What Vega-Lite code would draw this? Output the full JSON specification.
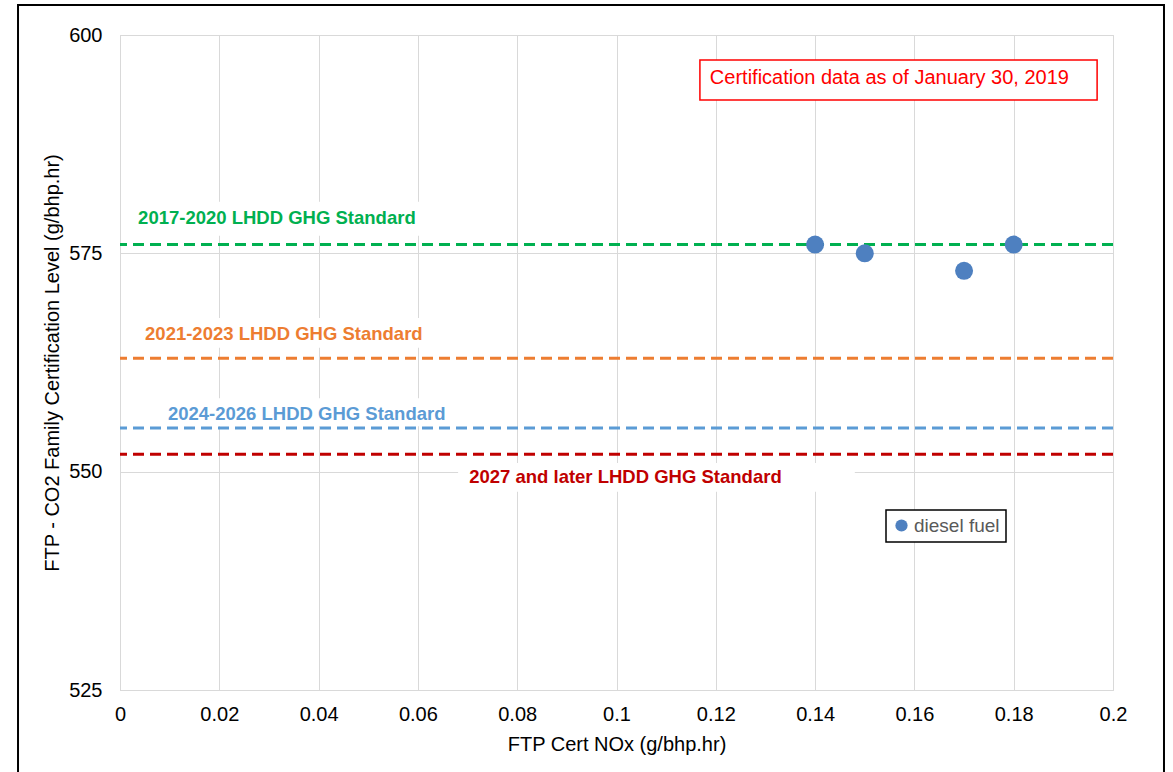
{
  "$schema": "https://vega.github.io/schema/vega-lite/v6.json",
  "autosize": {"type": "none"},
  "width": 993,
  "height": 655,
  "padding": {"left": 120, "top": 35, "right": 60, "bottom": 82},
  "background": "white",
  "datasets": {
    "points": [
      {"nox": 0.14, "co2": 576, "fuel": "diesel fuel"},
      {"nox": 0.15, "co2": 575, "fuel": "diesel fuel"},
      {"nox": 0.17, "co2": 573, "fuel": "diesel fuel"},
      {"nox": 0.18, "co2": 576, "fuel": "diesel fuel"}
    ],
    "standards": [
      {"standard": "2017-2020 LHDD GHG Standard", "level": 576},
      {"standard": "2021-2023 LHDD GHG Standard", "level": 563},
      {"standard": "2024-2026 LHDD GHG Standard", "level": 555},
      {"standard": "2027 and later LHDD GHG Standard", "level": 552}
    ]
  },
  "config": {
    "view": {"stroke": "#D9D9D9"},
    "font": "Liberation Sans",
    "axis": {
      "grid": true, "gridColor": "#D9D9D9", "gridWidth": 1,
      "domainColor": "#D9D9D9", "ticks": false,
      "labelFont": "Liberation Sans", "titleFont": "Liberation Sans",
      "labelFontSize": 20, "titleFontSize": 20,
      "labelColor": "#000000", "titleColor": "#000000",
      "titleFontWeight": "normal", "labelFlush": false, "labelOverlap": false
    },
    "legend": {"strokeWidth": 1.5}
  },
  "layer": [
    {
      "data": {"name": "standards"},
      "transform": [{"filter": "datum.level == 576"}],
      "mark": {"type": "rect", "fill": "white"},
      "encoding": {
        "x": {"datum": 0.0016, "type": "quantitative", "scale": {"domain": [0, 0.2], "nice": false, "zero": false}, "title": "FTP Cert NOx (g/bhp.hr)",
          "axis": {"values": [0, 0.02, 0.04, 0.06, 0.08, 0.1, 0.12, 0.14, 0.16, 0.18, 0.2], "format": ".2~f", "labelPadding": 14, "titlePadding": 10}},
        "x2": {"datum": 0.0616},
        "y": {"datum": 580.9, "type": "quantitative", "scale": {"domain": [525, 600], "nice": false, "zero": false}, "title": "FTP - CO2 Family Certification Level (g/bhp.hr)",
          "axis": {"values": [525, 550, 575, 600], "labelPadding": 18, "titlePadding": 6}},
        "y2": {"datum": 577.0}
      }
    },
    {
      "data": {"name": "standards"},
      "transform": [{"filter": "datum.level == 563"}],
      "mark": {"type": "rect", "fill": "white"},
      "encoding": {
        "x": {"datum": 0.003, "type": "quantitative", "scale": {"domain": [0, 0.2], "nice": false, "zero": false}},
        "x2": {"datum": 0.063},
        "y": {"datum": 567.6, "type": "quantitative", "scale": {"domain": [525, 600], "nice": false, "zero": false}},
        "y2": {"datum": 564.2}
      }
    },
    {
      "data": {"name": "standards"},
      "transform": [{"filter": "datum.level == 555"}],
      "mark": {"type": "rect", "fill": "white"},
      "encoding": {
        "x": {"datum": 0.0077, "type": "quantitative", "scale": {"domain": [0, 0.2], "nice": false, "zero": false}},
        "x2": {"datum": 0.0675},
        "y": {"datum": 558.4, "type": "quantitative", "scale": {"domain": [525, 600], "nice": false, "zero": false}},
        "y2": {"datum": 555.2}
      }
    },
    {
      "data": {"name": "standards"},
      "transform": [{"filter": "datum.level == 552"}],
      "mark": {"type": "rect", "fill": "white"},
      "encoding": {
        "x": {"datum": 0.0681, "type": "quantitative", "scale": {"domain": [0, 0.2], "nice": false, "zero": false}},
        "x2": {"datum": 0.148},
        "y": {"datum": 551.0, "type": "quantitative", "scale": {"domain": [525, 600], "nice": false, "zero": false}},
        "y2": {"datum": 547.7}
      }
    },
    {
      "data": {"name": "standards"},
      "transform": [{"filter": "datum.level == 576"}],
      "mark": {"type": "rule", "color": "#00B050", "strokeWidth": 3, "strokeDash": [11, 6]},
      "encoding": {"y": {"field": "level", "type": "quantitative", "scale": {"domain": [525, 600], "nice": false, "zero": false}}}
    },
    {
      "data": {"name": "standards"},
      "transform": [{"filter": "datum.level == 563"}],
      "mark": {"type": "rule", "color": "#ED7D31", "strokeWidth": 3, "strokeDash": [11, 6]},
      "encoding": {"y": {"field": "level", "type": "quantitative", "scale": {"domain": [525, 600], "nice": false, "zero": false}}}
    },
    {
      "data": {"name": "standards"},
      "transform": [{"filter": "datum.level == 555"}],
      "mark": {"type": "rule", "color": "#5B9BD5", "strokeWidth": 3, "strokeDash": [11, 6]},
      "encoding": {"y": {"field": "level", "type": "quantitative", "scale": {"domain": [525, 600], "nice": false, "zero": false}}}
    },
    {
      "data": {"name": "standards"},
      "transform": [{"filter": "datum.level == 552"}],
      "mark": {"type": "rule", "color": "#C00000", "strokeWidth": 3, "strokeDash": [11, 6]},
      "encoding": {"y": {"field": "level", "type": "quantitative", "scale": {"domain": [525, 600], "nice": false, "zero": false}}}
    },
    {
      "data": {"name": "standards"},
      "transform": [{"filter": "datum.level == 576"}],
      "mark": {"type": "text", "color": "#00B050", "font": "Liberation Sans", "fontSize": 18.5, "fontWeight": "bold", "align": "center", "baseline": "middle"},
      "encoding": {
        "x": {"datum": 0.0316, "type": "quantitative", "scale": {"domain": [0, 0.2], "nice": false, "zero": false}},
        "y": {"datum": 579.05, "type": "quantitative", "scale": {"domain": [525, 600], "nice": false, "zero": false}},
        "text": {"field": "standard"}
      }
    },
    {
      "data": {"name": "standards"},
      "transform": [{"filter": "datum.level == 563"}],
      "mark": {"type": "text", "color": "#ED7D31", "font": "Liberation Sans", "fontSize": 18.5, "fontWeight": "bold", "align": "center", "baseline": "middle"},
      "encoding": {
        "x": {"datum": 0.033, "type": "quantitative", "scale": {"domain": [0, 0.2], "nice": false, "zero": false}},
        "y": {"datum": 565.76, "type": "quantitative", "scale": {"domain": [525, 600], "nice": false, "zero": false}},
        "text": {"field": "standard"}
      }
    },
    {
      "data": {"name": "standards"},
      "transform": [{"filter": "datum.level == 555"}],
      "mark": {"type": "text", "color": "#5B9BD5", "font": "Liberation Sans", "fontSize": 18.5, "fontWeight": "bold", "align": "center", "baseline": "middle"},
      "encoding": {
        "x": {"datum": 0.0376, "type": "quantitative", "scale": {"domain": [0, 0.2], "nice": false, "zero": false}},
        "y": {"datum": 556.6, "type": "quantitative", "scale": {"domain": [525, 600], "nice": false, "zero": false}},
        "text": {"field": "standard"}
      }
    },
    {
      "data": {"name": "standards"},
      "transform": [{"filter": "datum.level == 552"}],
      "mark": {"type": "text", "color": "#C00000", "font": "Liberation Sans", "fontSize": 18.5, "fontWeight": "bold", "align": "center", "baseline": "middle"},
      "encoding": {
        "x": {"datum": 0.1018, "type": "quantitative", "scale": {"domain": [0, 0.2], "nice": false, "zero": false}},
        "y": {"datum": 549.39, "type": "quantitative", "scale": {"domain": [525, 600], "nice": false, "zero": false}},
        "text": {"field": "standard"}
      }
    },
    {
      "data": {"name": "points"},
      "mark": {"type": "point", "filled": true, "shape": "circle", "size": 324, "opacity": 1},
      "encoding": {
        "x": {"field": "nox", "type": "quantitative", "scale": {"domain": [0, 0.2], "nice": false, "zero": false}, "title": "FTP Cert NOx (g/bhp.hr)"},
        "y": {"field": "co2", "type": "quantitative", "scale": {"domain": [525, 600], "nice": false, "zero": false}, "title": "FTP - CO2 Family Certification Level (g/bhp.hr)"},
        "color": {"field": "fuel", "type": "nominal", "scale": {"range": ["#4E80C0"]},
          "legend": {"title": null, "orient": "none", "legendX": 766, "legendY": 475, "labelFontSize": 19, "labelColor": "#595959", "labelFont": "Liberation Sans", "symbolSize": 150, "symbolType": "circle", "symbolStrokeWidth": 0, "strokeColor": "#000000", "padding": 6, "labelOffset": 3, "fillColor": "white"}}
      }
    },
    {
      "data": {"values": [{}]},
      "mark": {"type": "rect", "fill": "white", "stroke": "#FF0000", "strokeWidth": 1.5},
      "encoding": {
        "x": {"datum": 0.1168, "type": "quantitative", "scale": {"domain": [0, 0.2], "nice": false, "zero": false}},
        "x2": {"datum": 0.1968},
        "y": {"datum": 597.14, "type": "quantitative", "scale": {"domain": [525, 600], "nice": false, "zero": false}},
        "y2": {"datum": 592.56}
      }
    },
    {
      "data": {"values": [{}]},
      "mark": {"type": "text", "color": "#FF0000", "font": "Liberation Sans", "fontSize": 20, "align": "left", "baseline": "middle"},
      "encoding": {
        "x": {"datum": 0.1188, "type": "quantitative", "scale": {"domain": [0, 0.2], "nice": false, "zero": false}},
        "y": {"datum": 595.08, "type": "quantitative", "scale": {"domain": [525, 600], "nice": false, "zero": false}},
        "text": {"value": "Certification data as of January 30, 2019"}
      }
    },
    {
      "data": {"values": [{}]},
      "mark": {"type": "rect", "fill": null, "fillOpacity": 0, "stroke": "#000000", "strokeWidth": 2},
      "encoding": {
        "x": {"datum": -0.02054, "type": "quantitative", "scale": {"domain": [0, 0.2], "nice": false, "zero": false}},
        "x2": {"datum": 0.21027},
        "y": {"datum": 603.43, "type": "quantitative", "scale": {"domain": [525, 600], "nice": false, "zero": false}},
        "y2": {"datum": 514}
      }
    }
  ]
}
